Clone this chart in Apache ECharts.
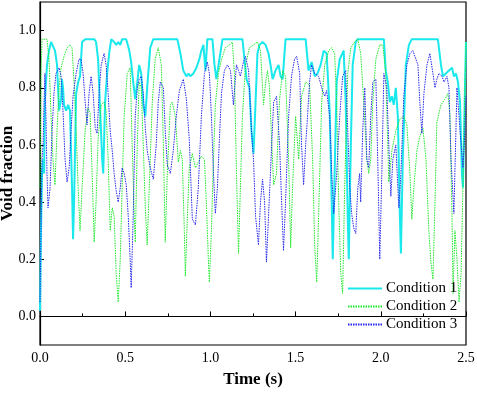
<!DOCTYPE html>
<html>
<head>
<meta charset="utf-8">
<script src="https://cdn.jsdelivr.net/npm/echarts@6/dist/echarts.min.js"></script>
<style>
  html, body { margin: 0; padding: 0; background: #fff; }
  #chart { width: 477px; height: 393px; }
</style>
</head>
<body>
<div id="chart"></div>
<script>
// values (time in s, void fraction)
const time1 = [0,0.006,0.012,0.018,0.024,0.029,0.041,0.053,0.065,0.076,0.088,0.100,0.112,0.124,0.129,0.135,0.141,0.153,0.165,0.176,
  0.188,0.194,0.200,0.212,0.224,0.235,0.247,0.265,0.318,0.329,0.341,0.353,0.365,0.371,0.382,0.394,0.406,0.418,0.435,0.447,
  0.459,0.471,0.482,0.506,0.524,0.535,0.547,0.559,0.571,0.582,0.594,0.606,0.618,0.629,0.647,0.665,0.806,0.824,0.841,0.859,
  0.871,0.882,0.900,0.918,0.935,0.947,0.959,0.971,0.982,1.012,1.024,1.035,1.053,1.071,1.188,1.200,1.212,1.229,1.241,1.253,
  1.265,1.276,1.288,1.306,1.324,1.341,1.353,1.365,1.382,1.400,1.412,1.424,1.441,1.559,1.576,1.594,1.612,1.629,1.647,1.665,
  1.682,1.700,1.712,1.718,1.729,1.741,1.759,1.782,1.794,1.806,1.812,1.824,1.835,1.853,1.865,2.018,2.029,2.041,2.053,2.065,
  2.076,2.088,2.100,2.112,2.118,2.129,2.147,2.165,2.182,2.335,2.353,2.365,2.382,2.400,2.418,2.429,2.441,2.453,2.465,2.476,
  2.482,2.494,2.5];
const void1 = [0.02,0.30,0.50,0.55,0.50,0.75,0.88,0.93,0.96,0.96,0.93,0.88,0.72,0.76,0.83,0.80,0.74,0.72,0.74,0.72,
  0.45,0.27,0.40,0.78,0.82,0.84,0.96,0.97,0.97,0.96,0.90,0.72,0.55,0.50,0.75,0.85,0.92,0.97,0.96,0.95,
  0.96,0.95,0.97,0.97,0.93,0.89,0.82,0.76,0.82,0.88,0.85,0.74,0.70,0.80,0.94,0.97,0.97,0.92,0.86,0.84,
  0.85,0.84,0.85,0.87,0.90,0.93,0.95,0.86,0.97,0.97,0.88,0.83,0.90,0.97,0.97,0.90,0.83,0.80,0.65,0.57,
  0.75,0.92,0.95,0.96,0.95,0.92,0.88,0.83,0.86,0.88,0.84,0.83,0.97,0.97,0.86,0.89,0.84,0.85,0.88,0.93,
  0.92,0.72,0.40,0.20,0.50,0.82,0.90,0.93,0.75,0.35,0.20,0.60,0.88,0.96,0.97,0.97,0.86,0.82,0.75,0.77,
  0.74,0.80,0.70,0.35,0.22,0.55,0.88,0.95,0.97,0.97,0.88,0.84,0.85,0.86,0.87,0.84,0.85,0.82,0.75,0.50,
  0.45,0.80,0.96];

const time2 = [0,0.006,0.012,0.041,0.053,0.065,0.076,0.088,0.100,0.112,0.124,0.141,0.159,0.176,0.188,0.200,0.212,0.224,0.235,0.247,
  0.265,0.282,0.294,0.306,0.318,0.329,0.341,0.359,0.376,0.388,0.400,0.412,0.424,0.435,0.447,0.459,0.471,0.482,0.494,0.512,
  0.529,0.541,0.553,0.559,0.571,0.582,0.594,0.606,0.618,0.629,0.641,0.659,0.676,0.694,0.712,0.724,0.735,0.747,0.765,0.776,
  0.794,0.812,0.824,0.835,0.847,0.853,0.865,0.876,0.894,0.912,0.929,0.947,0.965,0.976,0.988,0.994,1.006,1.018,1.029,1.047,
  1.065,1.088,1.112,1.129,1.141,1.153,1.165,1.176,1.188,1.206,1.229,1.253,1.276,1.294,1.306,1.312,1.324,1.335,1.347,1.359,
  1.371,1.388,1.406,1.424,1.441,1.459,1.471,1.482,1.500,1.518,1.535,1.559,1.582,1.600,1.612,1.624,1.635,1.653,1.671,1.694,
  1.712,1.729,1.741,1.753,1.765,1.776,1.788,1.806,1.824,1.847,1.865,1.882,1.900,1.918,1.929,1.941,1.953,1.971,1.994,2.012,
  2.029,2.041,2.047,2.065,2.088,2.112,2.135,2.153,2.171,2.182,2.194,2.212,2.229,2.247,2.265,2.282,2.294,2.306,2.318,2.329,
  2.353,2.376,2.394,2.406,2.418,2.424,2.435,2.447,2.459,2.471,2.482,2.494,2.5];
const void2 = [0.45,0.85,0.97,0.97,0.90,0.70,0.55,0.46,0.65,0.80,0.87,0.91,0.94,0.95,0.94,0.82,0.65,0.45,0.30,0.45,
  0.65,0.73,0.71,0.50,0.26,0.40,0.62,0.74,0.75,0.72,0.55,0.30,0.38,0.35,0.15,0.05,0.20,0.45,0.70,0.85,
  0.87,0.60,0.35,0.26,0.60,0.82,0.80,0.60,0.38,0.25,0.45,0.75,0.90,0.94,0.88,0.60,0.26,0.50,0.74,0.75,
  0.70,0.54,0.58,0.55,0.30,0.14,0.35,0.52,0.57,0.52,0.54,0.56,0.55,0.40,0.20,0.12,0.30,0.55,0.74,0.85,
  0.90,0.94,0.95,0.96,0.85,0.50,0.22,0.45,0.70,0.88,0.94,0.95,0.96,0.93,0.80,0.74,0.82,0.86,0.80,0.62,
  0.46,0.50,0.76,0.86,0.84,0.55,0.24,0.45,0.70,0.55,0.77,0.82,0.81,0.55,0.25,0.12,0.35,0.75,0.88,0.93,
  0.94,0.92,0.75,0.40,0.15,0.08,0.45,0.85,0.94,0.96,0.97,0.92,0.75,0.55,0.50,0.55,0.75,0.90,0.95,0.95,
  0.85,0.60,0.47,0.58,0.65,0.69,0.70,0.67,0.50,0.34,0.45,0.58,0.63,0.66,0.55,0.30,0.19,0.13,0.40,0.68,
  0.74,0.76,0.78,0.70,0.35,0.08,0.30,0.20,0.05,0.15,0.45,0.80,0.96];

const time3 = [0,0.006,0.012,0.018,0.024,0.029,0.035,0.041,0.047,0.059,0.071,0.082,0.094,0.112,0.124,0.135,0.147,0.159,0.171,0.182,
  0.194,0.212,0.229,0.241,0.253,0.265,0.276,0.288,0.300,0.312,0.324,0.335,0.347,0.359,0.376,0.388,0.400,0.412,0.424,0.435,
  0.447,0.459,0.471,0.482,0.494,0.506,0.518,0.529,0.535,0.547,0.559,0.571,0.582,0.594,0.606,0.618,0.629,0.647,0.665,0.682,
  0.694,0.706,0.724,0.735,0.747,0.765,0.782,0.800,0.818,0.841,0.859,0.876,0.894,0.912,0.929,0.947,0.965,0.982,0.994,1.006,
  1.018,1.029,1.041,1.053,1.065,1.082,1.100,1.118,1.135,1.153,1.165,1.176,1.194,1.206,1.224,1.241,1.253,1.265,1.282,1.294,
  1.306,1.318,1.329,1.341,1.353,1.371,1.388,1.406,1.418,1.429,1.441,1.459,1.476,1.494,1.506,1.524,1.535,1.547,1.559,1.571,
  1.582,1.594,1.612,1.635,1.653,1.671,1.682,1.700,1.712,1.724,1.741,1.759,1.776,1.794,1.806,1.818,1.829,1.841,1.853,1.865,
  1.876,1.882,1.894,1.906,1.918,1.929,1.941,1.953,1.971,1.982,1.994,2.006,2.018,2.035,2.047,2.059,2.071,2.088,2.106,2.118,
  2.135,2.153,2.171,2.188,2.206,2.218,2.229,2.241,2.253,2.271,2.288,2.306,2.318,2.329,2.341,2.359,2.371,2.388,2.400,2.412,
  2.429,2.447,2.465,2.482,2.494,2.5];
const void3 = [0.05,0.30,0.55,0.60,0.75,0.85,0.70,0.50,0.38,0.45,0.65,0.78,0.85,0.87,0.84,0.72,0.55,0.47,0.52,0.65,
  0.77,0.85,0.90,0.90,0.85,0.75,0.67,0.78,0.84,0.78,0.66,0.64,0.78,0.88,0.92,0.88,0.78,0.65,0.58,0.50,
  0.44,0.40,0.45,0.52,0.50,0.46,0.35,0.20,0.10,0.35,0.70,0.80,0.83,0.84,0.78,0.66,0.58,0.52,0.48,0.60,
  0.75,0.82,0.80,0.65,0.53,0.50,0.58,0.70,0.79,0.83,0.76,0.62,0.34,0.32,0.45,0.70,0.85,0.89,0.85,0.70,
  0.50,0.36,0.45,0.62,0.78,0.86,0.88,0.86,0.74,0.88,0.86,0.84,0.89,0.91,0.86,0.65,0.55,0.35,0.25,0.40,
  0.48,0.40,0.19,0.35,0.51,0.75,0.77,0.60,0.40,0.23,0.40,0.70,0.84,0.90,0.91,0.85,0.60,0.46,0.60,0.71,
  0.82,0.88,0.85,0.84,0.80,0.77,0.79,0.70,0.50,0.36,0.50,0.70,0.84,0.86,0.65,0.45,0.36,0.31,0.29,0.45,
  0.50,0.40,0.65,0.80,0.55,0.52,0.70,0.82,0.83,0.55,0.20,0.50,0.85,0.80,0.60,0.42,0.55,0.60,0.38,0.50,
  0.77,0.88,0.92,0.93,0.90,0.88,0.75,0.64,0.78,0.88,0.92,0.85,0.80,0.83,0.85,0.84,0.82,0.84,0.80,0.55,
  0.36,0.80,0.65,0.52,0.65,0.77];

const yTicks = [0, 0.2, 0.4, 0.6, 0.8, 1.0];

function pairs(t, v) {
  return t.map((x, i) => [x, v[i]]);
}

const chart = echarts.init(document.getElementById('chart'));
const serif = 'Liberation Serif';

chart.setOption({
  animation: false,
  textStyle: { fontFamily: serif, color: '#000' },
  grid: {
    left: 40, right: 11, top: 2, bottom: 48,
    containLabel: false, outerBoundsMode: 'none',
    show: true, borderColor: '#000', borderWidth: 1.2, backgroundColor: 'transparent'
  },
  legend: {
    orient: 'vertical',
    left: 342,
    top: 276,
    itemWidth: 34,
    itemHeight: 12,
    itemGap: 3,
    itemStyle: { opacity: 0 },
    textStyle: { fontFamily: serif, fontSize: 15, color: '#000', padding: [0, 0, 0, -1] },
    data: ['Condition 1', 'Condition 2', 'Condition 3']
  },
  xAxis: {
    type: 'value',
    min: 0, max: 2.5, interval: 0.5,
    name: 'Time (s)',
    nameLocation: 'middle',
    nameGap: 26,
    nameMoveOverlap: false,
    nameTextStyle: { fontFamily: serif, fontSize: 17, fontWeight: 'bold', color: '#000' },
    axisLine: { lineStyle: { color: '#000', width: 1.2 } },
    axisTick: { inside: true, length: 5, lineStyle: { color: '#000' } },
    minorTick: { show: true, splitNumber: 2, length: 3, lineStyle: { color: '#000' } },
    axisLabel: { fontFamily: serif, fontSize: 14, color: '#000', margin: 6,
      formatter: v => v.toFixed(1) },
    splitLine: { show: false }
  },
  yAxis: {
    type: 'value',
    min: -0.1, max: 1.1,
    name: 'Void fraction',
    nameLocation: 'middle',
    nameGap: 24,
    nameMoveOverlap: false,
    nameTextStyle: { fontFamily: serif, fontSize: 17, fontWeight: 'bold', color: '#000' },
    axisLine: { show: true, lineStyle: { color: '#000', width: 1.2 } },
    axisTick: { inside: true, length: 4, customValues: yTicks, lineStyle: { color: '#000' } },
    axisLabel: { fontFamily: serif, fontSize: 14, color: '#000', margin: 4,
      customValues: yTicks, formatter: v => v.toFixed(1) },
    splitLine: { show: false }
  },
  series: [
    {
      name: 'Condition 1', type: 'line', symbol: 'none',
      data: pairs(time1, void1),
      lineStyle: { color: '#19e8ec', width: 2, type: 'solid' },
      itemStyle: { color: '#19e8ec' }
    },
    {
      name: 'Condition 2', type: 'line', symbol: 'none',
      data: pairs(time2, void2),
      lineStyle: { color: '#1ee82a', width: 1, type: [1.5, 1] },
      itemStyle: { color: '#1ee82a' }
    },
    {
      name: 'Condition 3', type: 'line', symbol: 'none',
      data: pairs(time3, void3),
      lineStyle: { color: '#2626f0', width: 1, type: [1.5, 1] },
      itemStyle: { color: '#2626f0' }
    }
  ]
});
</script>
</body>
</html>
